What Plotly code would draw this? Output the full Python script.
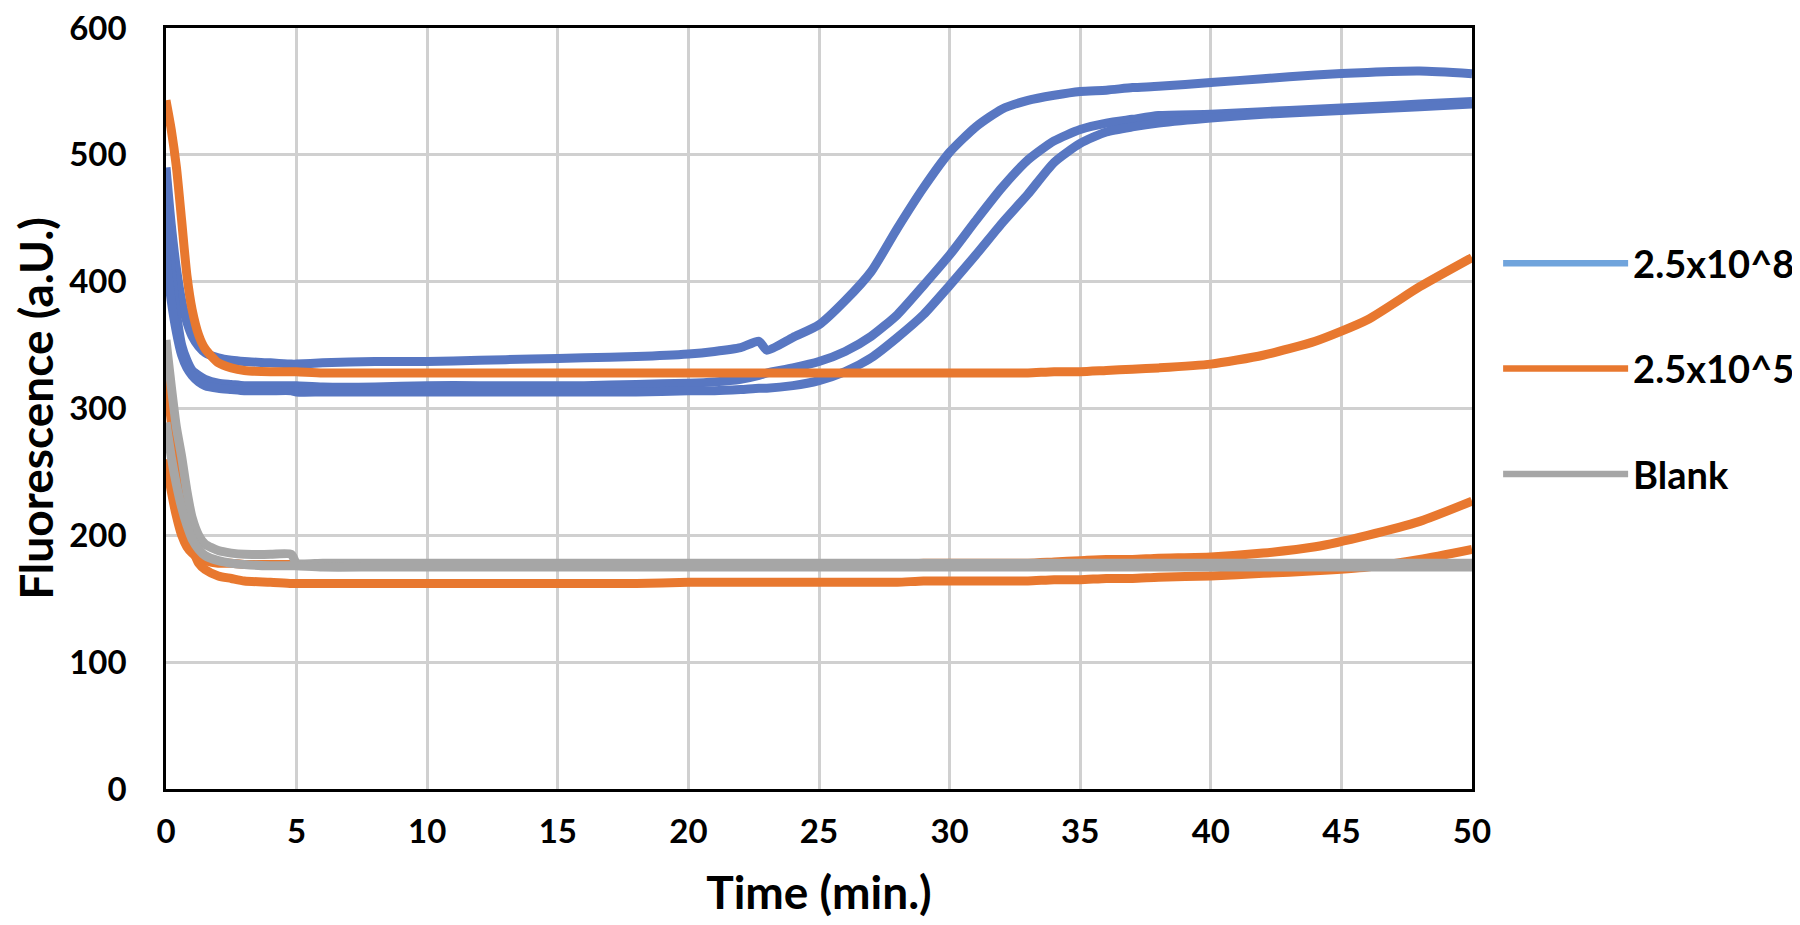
import plotly.graph_objects as go

# Time (min.)
time_min = [0, 0.2, 0.4, 0.6, 0.8, 1.0, 1.25, 1.5, 2, 2.5, 3, 4, 4.8, 5, 6, 8,
            10, 12, 14, 16, 18, 20, 21, 22, 22.7, 23, 24, 25, 26, 27, 28, 29,
            30, 31, 32, 33, 34, 35, 36, 37, 38, 40, 42, 44, 46, 48, 50]

# 2.5x10^8 replicates
blue_1 = [490, 445, 410, 385, 368, 357, 349, 344, 340, 338, 337, 336, 335, 335, 336, 337,
          337, 338, 339, 340, 341, 343, 345, 348, 353, 346, 356, 366, 385, 408, 442, 474,
          502, 522, 536, 543, 547, 550, 551, 553, 554, 557, 560, 563, 565, 566, 564]
blue_2 = [460, 410, 375, 350, 338, 330, 326, 323, 320, 319, 318, 318, 318, 318, 317, 317,
          318, 318, 318, 318, 319, 320, 321, 323, 326, 328, 332, 337, 345, 357, 374, 397,
          421, 448, 474, 496, 511, 520, 525, 528, 531, 532, 534, 536, 538, 540, 542]
blue_3 = [420, 385, 360, 342, 332, 326, 321, 318, 316, 315, 314, 314, 314, 313, 313, 313,
          313, 313, 313, 313, 313, 314, 314, 315, 316, 316, 318, 322, 329, 340, 356, 374,
          397, 421, 446, 469, 494, 509, 518, 522, 525, 529, 532, 534, 536, 538, 540]

# 2.5x10^5 replicates
orange_1 = [543, 520, 490, 448, 405, 378, 358, 347, 336, 332, 330, 329, 329, 329, 328, 328,
            328, 328, 328, 328, 328, 328, 328, 328, 328, 328, 328, 328, 328, 328, 328, 328,
            328, 328, 328, 328, 329, 329, 330, 331, 332, 335, 342, 353, 370, 396, 419]
orange_2 = [260, 235, 215, 200, 191, 186, 182, 180, 178, 178, 177, 177, 177, 177, 177, 177,
            177, 177, 177, 177, 177, 177, 177, 177, 177, 177, 177, 177, 177, 177, 177, 178,
            178, 178, 178, 178, 179, 180, 181, 181, 182, 183, 186, 191, 200, 211, 227]
orange_3 = [326, 290, 250, 222, 203, 190, 178, 173, 168, 166, 164, 163, 162, 162, 162, 162,
            162, 162, 162, 162, 162, 163, 163, 163, 163, 163, 163, 163, 163, 163, 163, 164,
            164, 164, 164, 164, 165, 165, 166, 166, 167, 168, 170, 172, 175, 181, 189]

# Blank replicates
gray_1 = [354, 318, 285, 262, 235, 214, 200, 193, 188, 186, 185, 185, 185, 178, 178, 178,
          178, 178, 178, 178, 178, 178, 178, 178, 178, 178, 178, 178, 178, 178, 178, 178,
          178, 178, 178, 178, 178, 178, 178, 178, 178, 178, 178, 178, 178, 178, 178]
gray_2 = [289, 262, 240, 222, 208, 197, 189, 184, 180, 178, 177, 176, 176, 176, 175, 175,
          175, 175, 175, 175, 175, 175, 175, 175, 175, 175, 175, 175, 175, 175, 175, 175,
          175, 175, 175, 175, 175, 175, 175, 175, 175, 175, 175, 175, 175, 175, 175]

legend_names = ["2.5x10^8", "2.5x10^5", "Blank"]
x_ticks = [0, 5, 10, 15, 20, 25, 30, 35, 40, 45, 50]
y_ticks = [0, 100, 200, 300, 400, 500, 600]

BLUE = "#5877C2"
BLUE_LEGEND = "#70A4DC"
ORANGE = "#E8782F"
GRAY = "#A6A6A6"
FONT = "Lato"
LW = 9

fig = go.Figure()

groups = [
    (BLUE, [blue_1, blue_2, blue_3], "g8"),
    (ORANGE, [orange_1, orange_2, orange_3], "g5"),
    (GRAY, [gray_1, gray_2], "gb"),
]
for color, series_list, grp in groups:
    for s in series_list:
        fig.add_trace(go.Scatter(
            x=time_min, y=s, mode="lines",
            line=dict(color=color, width=LW, shape="spline", smoothing=0.6),
            showlegend=False, legendgroup=grp, hoverinfo="x+y"))

# legend entries
for name, color, grp in zip(legend_names, [BLUE_LEGEND, ORANGE, GRAY], ["g8", "g5", "gb"]):
    fig.add_trace(go.Scatter(
        x=[None], y=[None], mode="lines", name=name,
        line=dict(color=color, width=6.5), legendgroup=grp, showlegend=True))

fig.update_layout(
    width=1800, height=925,
    paper_bgcolor="white", plot_bgcolor="white",
    margin=dict(l=158, r=336, t=20, b=144, autoexpand=False),
    font=dict(family=FONT, color="black", size=33, weight=700),
    legend=dict(
        x=1.02, xanchor="left", y=0.552, yanchor="middle",
        font=dict(family=FONT, size=38, color="black", weight=700),
        itemwidth=125, tracegroupgap=53, bgcolor="rgba(0,0,0,0)",
    ),
    xaxis=dict(
        range=[0, 50], tickvals=x_ticks, ticktext=[str(v) for v in x_ticks],
        showgrid=True, gridcolor="#D0D0D0", gridwidth=2.5,
        showline=True, linecolor="black", linewidth=2.5, mirror=True,
        ticks="", ticklabelstandoff=12, zeroline=False, ticklabeloverflow="allow",
        tickfont=dict(family=FONT, size=33, color="black", weight=700),
        title=dict(text="Time (min.)", standoff=28,
                   font=dict(family=FONT, size=46, color="black", weight=700)),
    ),
    yaxis=dict(
        range=[0, 600], tickvals=y_ticks, ticktext=[str(v) for v in y_ticks],
        showgrid=True, gridcolor="#D0D0D0", gridwidth=2.5,
        showline=True, linecolor="black", linewidth=2.5, mirror=True,
        ticks="", ticklabelstandoff=30, zeroline=False, ticklabeloverflow="allow",
        tickfont=dict(family=FONT, size=33, color="black", weight=700),
        automargin=True,
        title=dict(text="Fluorescence (a.U.)", standoff=20,
                   font=dict(family=FONT, size=46, color="black", weight=700)),
    ),
)

fig.write_html("out.html")
